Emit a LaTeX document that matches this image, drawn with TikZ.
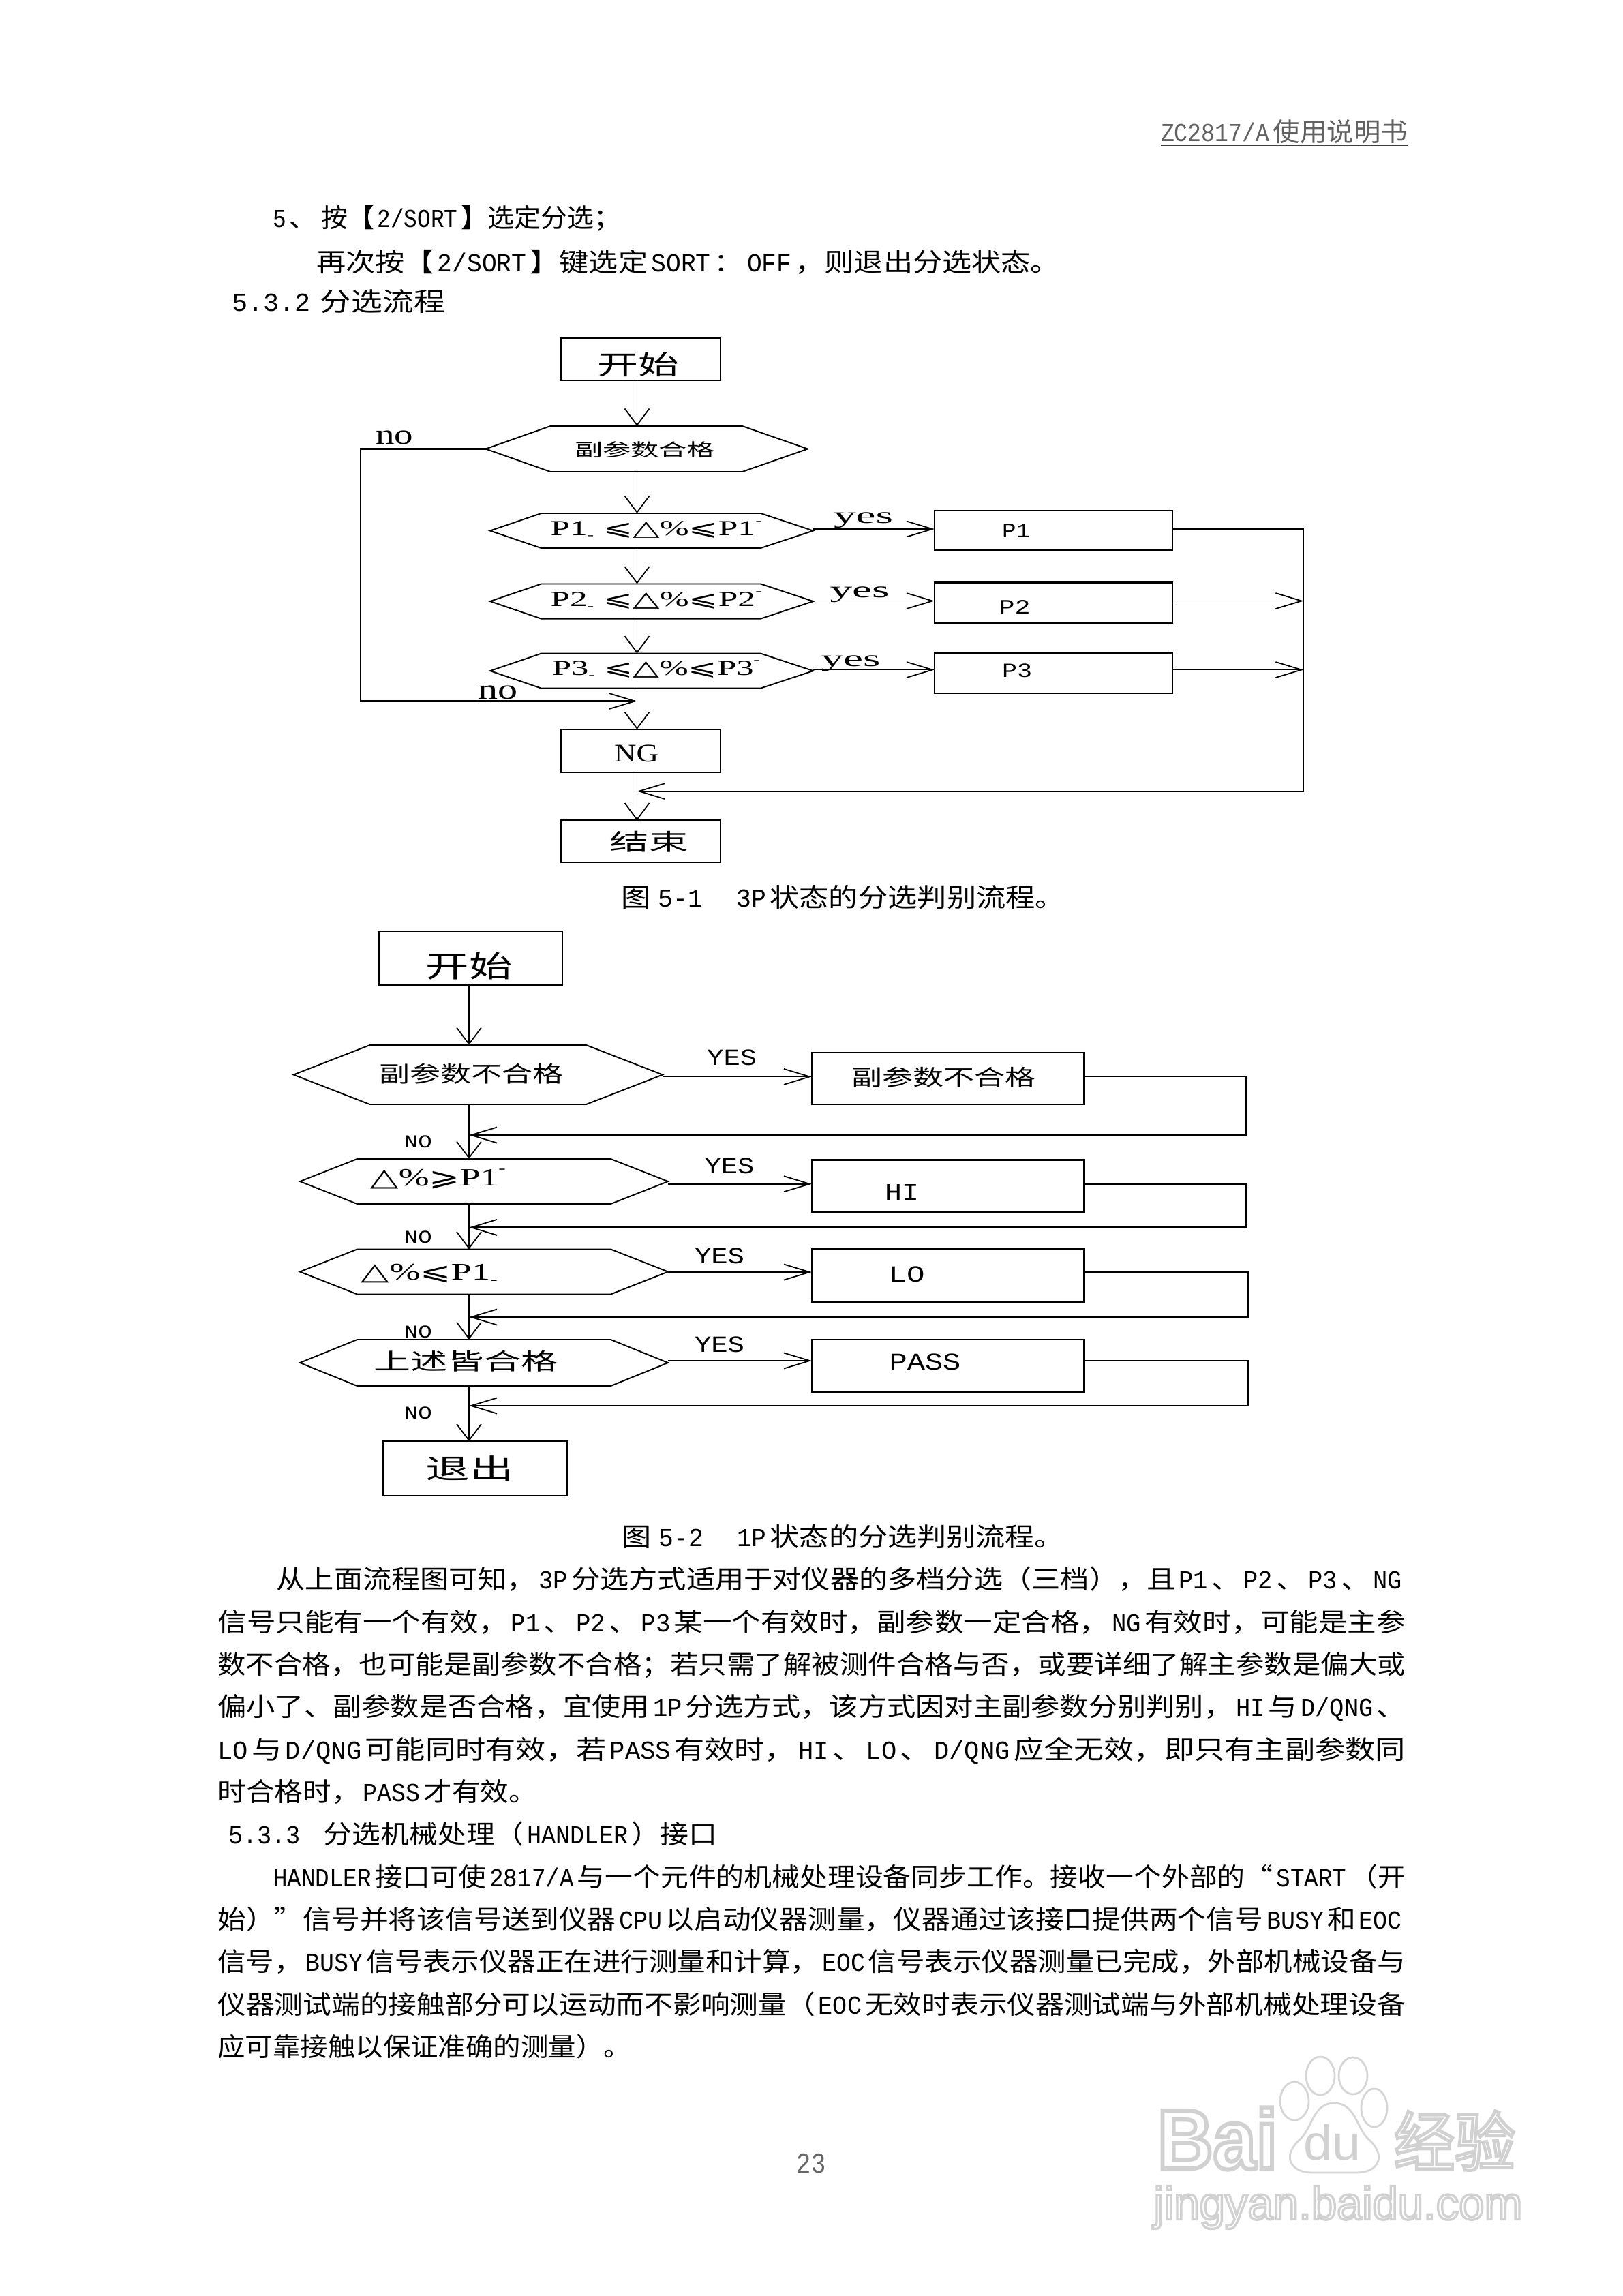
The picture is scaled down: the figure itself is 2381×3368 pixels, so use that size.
\documentclass[tikz,border=0pt]{standalone}
\usepackage{fontspec}
\usepackage{graphicx}
\usetikzlibrary{arrows.meta,calc}
\setmainfont{Noto Sans CJK SC}
\newfontfamily\latfont[FakeStretch=0.84]{Liberation Mono}
\newfontfamily\serfont{Liberation Serif}
\newfontfamily\symfont{DejaVu Sans}
\newcommand\ltn[1]{\hspace{0.12em}{\latfont #1}\hspace{0.12em}}
\newcommand\lts[1]{{\latfont #1}\hspace{0.12em}}
\newcommand\outl[1]{\special{pdf:code 1 Tr 0.5 w}#1\special{pdf:code 0 Tr}}
\newlength\px \setlength\px{0.01cm}
\newcommand\tline[5]{\node[txt] (#1) at (#2,#4) {\resizebox{#3\px}{0.9\height}{#5}};}
\newcommand\clab[6]{\node[lab] (#1) at (#2,#3) {\resizebox*{#4\px}{#5\px}{#6}};}
\newcommand\boxn[5]{\node[bx] (#1) at ({(#2+#4)/2},{(#3+#5)/2}) [minimum width={(#4-#2)*\px},minimum height={(#5-#3)*\px}] {};}
% name, left tip, right tip, top, bottom, left inset, right inset
\newcommand\hexn[7]{\node[anc] (#1) at ({(#2+#3)/2},{(#4+#5)/2}) [minimum width={(#3-#2)*\px},minimum height={(#5-#4)*\px}] {};
 \draw[lnthin] (#1.west) -- ($(#1.north west)+(#6,0)$) -- ($(#1.north east)+(-#7,0)$) -- (#1.east) -- ($(#1.south east)+(-#7,0)$) -- ($(#1.south west)+(#6,0)$) -- cycle;}
\newcommand\lessq{{\symfont ⩽}}
\newcommand\moreq{{\symfont ⩾}}
\newcommand\tri{{\symfont △}}
\newcommand\lowm{\raisebox{-0.35ex}{\scriptsize -}}
\newcommand\upm{\raisebox{0.9ex}{\scriptsize -}}
\tikzset{
 txt/.style={inner sep=0pt,outer sep=0pt,anchor=base west,font=\fontsize{12pt}{14pt}\selectfont,text=black},
 lab/.style={inner sep=0pt,outer sep=0pt,anchor=center,font=\fontsize{12pt}{14pt}\selectfont,text=black},
 anc/.style={inner sep=0pt,outer sep=0pt,rectangle},
 bx/.style={draw=black,line width=0.65pt,inner sep=0pt,outer sep=0pt,rectangle},
 lnthin/.style={draw=black,line width=0.55pt},
 lnthick/.style={draw=black,line width=0.8pt},
 arrV/.style={-{Straight Barb[length=0.24cm,width=0.36cm,line width=0.5pt]}},
 arrH/.style={-{Straight Barb[length=0.38cm,width=0.23cm,line width=0.5pt]}},
 wmline/.style={draw=black!16,line width=0.8pt},
 wm/.style={inner sep=0pt,outer sep=0pt,anchor=center,text=black!18},
}
\begin{document}
\begin{tikzpicture}[x=0.01cm,y=-0.01cm]
\useasboundingbox (0,0) rectangle (2381,3368);
\fill[white] (0,0) rectangle (2381,3368);

% header
\node[txt,text=black!62] (hdr) at (1703,207) {\resizebox{362\px}{0.9\height}{{\latfont ZC2817/A}\hspace{0.15em}使用说明书}};
\coordinate (hdrA) at (1703,213);
\coordinate (hdrB) at (2065,213);
\draw[line width=0.6pt,black!75] (hdrA) -- (hdrB);

% upper text
\tline{a1}{400}{510}{333}{\lts{5}、\hspace{0.2em}按【\ltn{2/SORT}】选定分选；}
\tline{a2}{464}{1091}{398}{再次按【\ltn{2/SORT}】键选定\ltn{SORT}：\ltn{OFF}，则退出分选状态。}
\tline{a3}{340}{313}{456}{\lts{5.3.2}\hspace{0.2em}分选流程}

%%%% chart 1
\coordinate (ax1) at (934.5,0);
\boxn{s1}{823.5}{496}{1057}{558}
\boxn{ng}{823.5}{1070}{1057}{1133}
\boxn{e1}{823.5}{1203.5}{1057}{1265}
\hexn{h1}{712.5}{1185}{625}{692}{95}{96}
\hexn{h2}{719}{1193}{753}{804}{75}{77}
\hexn{h3}{719}{1193}{856.5}{907.6}{75}{77}
\hexn{h4}{719}{1193}{958.6}{1009.6}{75}{77}
\boxn{p1}{1371}{749}{1720}{807}
\boxn{p2}{1371}{854.5}{1720}{914}
\boxn{p3}{1371}{957.5}{1720}{1017}

\clab{t1}{936.5}{534.6}{120}{36}{开始}
\clab{t2}{946}{659.6}{206}{24}{副参数合格}
\clab{t3}{963}{778}{311}{27}{{\serfont P1}\lowm\hspace{0.25em}\lessq\tri{\serfont\%}\lessq{\serfont P1}\upm}
\clab{t4}{963}{881.5}{311}{27}{{\serfont P2}\lowm\hspace{0.25em}\lessq\tri{\serfont\%}\lessq{\serfont P2}\upm}
\clab{t5}{963}{982.5}{306}{27}{{\serfont P3}\lowm\hspace{0.25em}\lessq\tri{\serfont\%}\lessq{\serfont P3}\upm}
\clab{t6}{1490.5}{778.5}{41}{20}{\latfont P1}
\clab{t7}{1488.6}{890.7}{46}{20}{\latfont P2}
\clab{t8}{1492}{984}{44}{20}{\latfont P3}
\clab{t9}{933.6}{1105.5}{65}{25}{\serfont NG}
\clab{t10}{952}{1235}{115}{31}{结束}
\clab{t11}{578.6}{642}{55}{20}{\serfont no}
\clab{t12}{730.7}{1015.7}{58}{20}{\serfont no}
\clab{t13}{1266.6}{763}{87}{23}{\serfont yes}
\clab{t14}{1261}{872}{87}{23}{\serfont yes}
\clab{t15}{1248}{973}{87}{23}{\serfont yes}

\draw[lnthin,arrV] (s1.south -| ax1) -- (h1.north -| ax1);
\draw[lnthin,arrV] (h1.south -| ax1) -- (h2.north -| ax1);
\draw[lnthin,arrV] (h2.south -| ax1) -- (h3.north -| ax1);
\draw[lnthin,arrV] (h3.south -| ax1) -- (h4.north -| ax1);
\draw[lnthin,arrV] (h4.south -| ax1) -- (ng.north -| ax1);
\draw[lnthin,arrV] (ng.south -| ax1) -- (e1.north -| ax1);
\coordinate (y1) at (0,776);
\coordinate (y2) at (0,881.5);
\coordinate (y3) at (0,982.5);
\coordinate (loop1) at (529,1028.5);
\coordinate (rail1) at (1912.5,1160.6);
\draw[lnthick,arrH] (h1.west) -| (loop1) -- (loop1 -| ax1);
\draw[lnthick,arrH] (h2.east |- y1) -- (p1.west |- y1);
\draw[lnthin,arrH] (h3.east |- y2) -- (p2.west |- y2);
\draw[lnthin,arrH] (h4.east |- y3) -- (p3.west |- y3);
\draw[lnthin,arrH] (p1.east |- y1) -| (rail1) -- (rail1 -| ax1);
\draw[lnthick] (p1.east |- y1) -- (rail1 |- y1);
\draw[lnthin,arrH] (p2.east |- y2) -- (rail1 |- y2);
\draw[lnthin,arrH] (p3.east |- y3) -- (rail1 |- y3);

\tline{c1}{911}{651}{1330}{图\hspace{0.15em}\ltn{5-1}\hspace{0.9em}\ltn{3P}状态的分选判别流程。}

%%%% chart 2
\coordinate (ax2) at (688,0);
\boxn{s2}{556}{1366}{825}{1445.6}
\hexn{k1}{430.6}{972}{1533}{1620}{112}{112}
\hexn{k2}{440}{980}{1700}{1766}{84}{84}
\hexn{k3}{440}{980}{1832.5}{1898.5}{84}{84}
\hexn{k4}{440}{980}{1965}{2033}{84}{84}
\boxn{b1}{1191}{1544}{1590.4}{1620}
\boxn{b2}{1191}{1701.6}{1590.4}{1777.4}
\boxn{b3}{1191}{1832.5}{1590.4}{1909.5}
\boxn{b4}{1191}{1965}{1590.4}{2041.5}
\boxn{e2}{561.7}{2114.4}{832.5}{2194}

\clab{u1}{688}{1417.5}{127}{40}{开始}
\clab{u2}{691}{1575}{270}{30}{副参数不合格}
\clab{u3}{1384}{1580}{270}{30}{副参数不合格}
\clab{u4}{643}{1729}{199}{29}{\tri{\serfont\%}\moreq{\serfont P1}\upm}
\clab{u5}{630}{1869}{200}{30}{\tri{\serfont\%}\lessq{\serfont P1}\lowm}
\clab{u6}{683}{1997}{270}{31}{上述皆合格}
\clab{u7}{1323}{1749}{50}{23}{\latfont HI}
\clab{u8}{1330}{1869}{53}{23}{\latfont LO}
\clab{u9}{1357}{1998}{105}{24}{\latfont PASS}
\clab{u10}{689}{2154}{129}{37}{退出}
\clab{u11}{1073.7}{1551}{73}{23}{\latfont YES}
\clab{u12}{1070}{1710}{73}{23}{\latfont YES}
\clab{u13}{1055.5}{1842}{73}{23}{\latfont YES}
\clab{u14}{1055.5}{1972}{73}{23}{\latfont YES}
\clab{u15}{613.4}{1675}{41}{18}{\latfont NO}
\clab{u16}{613.4}{1815}{41}{18}{\latfont NO}
\clab{u17}{613.4}{1954}{41}{18}{\latfont NO}
\clab{u18}{613.4}{2073}{41}{18}{\latfont NO}

\draw[lnthin,arrV] (s2.south -| ax2) -- (k1.north -| ax2);
\draw[lnthin,arrV] (k1.south -| ax2) -- (k2.north -| ax2);
\draw[lnthin,arrV] (k2.south -| ax2) -- (k3.north -| ax2);
\draw[lnthin,arrV] (k3.south -| ax2) -- (k4.north -| ax2);
\draw[lnthin,arrV] (k4.south -| ax2) -- (e2.north -| ax2);
\coordinate (q1) at (0,1579.4);
\coordinate (q2) at (0,1736.7);
\coordinate (q3) at (0,1866);
\coordinate (q4) at (0,1996);
\coordinate (r1) at (1827.8,1665);
\coordinate (r2) at (1827.8,1800.4);
\coordinate (r3) at (1830.6,1932);
\coordinate (r4) at (1830.6,2062);
\draw[lnthin,arrH] (k1.east |- q1) -- (b1.west |- q1);
\draw[lnthin,arrH] (k2.east |- q2) -- (b2.west |- q2);
\draw[lnthin,arrH] (k3.east |- q3) -- (b3.west |- q3);
\draw[lnthin,arrH] (k4.east |- q4) -- (b4.west |- q4);
\draw[lnthin,arrH] (b1.east |- q1) -| (r1) -- (r1 -| ax2);
\draw[lnthin,arrH] (b2.east |- q2) -| (r2) -- (r2 -| ax2);
\draw[lnthin,arrH] (b3.east |- q3) -| (r3) -- (r3 -| ax2);
\draw[lnthick,arrH] (b4.east |- q4) -| (r4) -- (r4 -| ax2);

\tline{c2}{912}{649}{2268}{图\hspace{0.15em}\ltn{5-2}\hspace{0.9em}\ltn{1P}状态的分选判别流程。}

%%%% body
\tline{d1}{405.6}{1656.4}{2330}{从上面流程图可知，\ltn{3P}分选方式适用于对仪器的多档分选（三档），且\ltn{P1}、\ltn{P2}、\ltn{P3}、\ltn{NG}}
\tline{d2}{319.5}{1742.5}{2393}{信号只能有一个有效，\ltn{P1}、\ltn{P2}、\ltn{P3}某一个有效时，副参数一定合格，\ltn{NG}有效时，可能是主参}
\tline{d3}{319.5}{1742.5}{2455}{数不合格，也可能是副参数不合格；若只需了解被测件合格与否，或要详细了解主参数是偏大或}
\tline{d4}{319.5}{1742.5}{2517}{偏小了、副参数是否合格，宜使用\ltn{1P}分选方式，该方式因对主副参数分别判别，\ltn{HI}与\ltn{D/QNG}、}
\tline{d5}{319.5}{1742.5}{2580}{\lts{LO}与\ltn{D/QNG}可能同时有效，若\ltn{PASS}有效时，\ltn{HI}、\ltn{LO}、\ltn{D/QNG}应全无效，即只有主副参数同}
\tline{d6}{319.5}{468.5}{2642}{时合格时，\ltn{PASS}才有效。}
\tline{d7}{335}{717}{2704}{\lts{5.3.3}\hspace{0.7em}分选机械处理（\ltn{HANDLER}）接口}
\tline{d8}{401}{1661}{2767}{\lts{HANDLER}接口可使\ltn{2817/A}与一个元件的机械处理设备同步工作。接收一个外部的“\ltn{START}（开}
\tline{d9}{319.5}{1742.5}{2829}{始）”信号并将该信号送到仪器\ltn{CPU}以启动仪器测量，仪器通过该接口提供两个信号\ltn{BUSY}和\ltn{EOC}}
\tline{d10}{319.5}{1742.5}{2891}{信号，\ltn{BUSY}信号表示仪器正在进行测量和计算，\ltn{EOC}信号表示仪器测量已完成，外部机械设备与}
\tline{d11}{319.5}{1742.5}{2954}{仪器测试端的接触部分可以运动而不影响测量（\ltn{EOC}无效时表示仪器测试端与外部机械处理设备}
\tline{d12}{319.5}{606.5}{3016}{应可靠接触以保证准确的测量）。}

% page number
\node[lab,text=black!60] (pg) at (1190,3174) {\latfont 23};

% watermark
\draw[wmline] (1899,3082) ellipse (21 and 28);
\draw[wmline] (1937,3045) ellipse (21 and 28);
\draw[wmline] (1985,3045) ellipse (21 and 27);
\draw[wmline] (2016,3092) ellipse (19 and 28);
\draw[wmline] (1957,3085) .. controls (1925,3085) and (1925,3125) .. (1905,3140) .. controls (1880,3165) and (1895,3187) .. (1925,3187) .. controls (1945,3187) and (1970,3187) .. (1990,3187) .. controls (2020,3187) and (2035,3165) .. (2010,3140) .. controls (1990,3125) and (1990,3085) .. (1957,3085) -- cycle;
\node[wm] (w1) at (1786,3137) {\resizebox*{176\px}{91\px}{\fontspec{Liberation Sans}\bfseries\outl{Bai}}};
\node[wm] (w2) at (1954,3143) {\resizebox*{84\px}{53\px}{\fontspec{Liberation Sans}du}};
\node[wm] (w3) at (2134,3140) {\resizebox*{178\px}{87\px}{\outl{经验}}};
\node[wm] (w4) at (1963,3238) {\resizebox*{541\px}{63\px}{\fontspec{Liberation Sans}\outl{jingyan.baidu.com}}};
\end{tikzpicture}
\end{document}
